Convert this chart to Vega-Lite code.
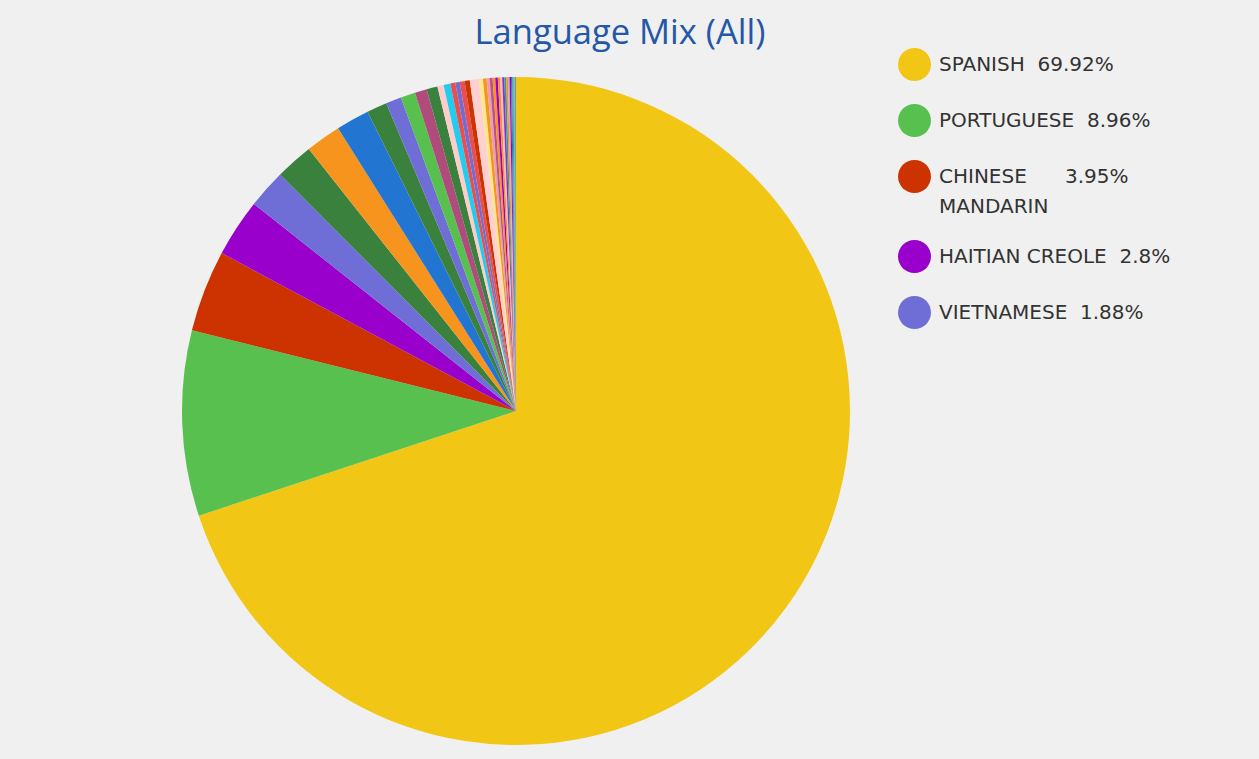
{
  "$schema": "https://vega.github.io/schema/vega-lite/v6.json",
  "autosize": {"type": "none"},
  "width": 1016,
  "height": 696,
  "padding": {"left": 8, "top": 63, "right": 235, "bottom": 0},
  "background": "#f0f0f0",
  "config": {
    "view": {"stroke": null},
    "style": {"guide-label": {"lineHeight": 30}}
  },
  "title": {
    "text": "Language Mix (All)",
    "font": "Open Sans",
    "fontSize": 34.5,
    "fontWeight": "normal",
    "color": "#2457A7",
    "anchor": "middle",
    "frame": "group",
    "dx": 104,
    "dy": 46,
    "baseline": "alphabetic",
    "offset": 16
  },
  "data": {
    "values": [
      {"lang": "SPANISH", "pct": 69.92, "rank": 1},
      {"lang": "PORTUGUESE", "pct": 8.96, "rank": 2},
      {"lang": "CHINESE MANDARIN", "pct": 3.95, "rank": 3},
      {"lang": "HAITIAN CREOLE", "pct": 2.8, "rank": 4},
      {"lang": "VIETNAMESE", "pct": 1.88, "rank": 5},
      {"lang": "OTHER 6", "pct": 1.83, "rank": 6},
      {"lang": "OTHER 7", "pct": 1.71, "rank": 7},
      {"lang": "OTHER 8", "pct": 1.61, "rank": 8},
      {"lang": "OTHER 9", "pct": 0.98, "rank": 9},
      {"lang": "OTHER 10", "pct": 0.75, "rank": 10},
      {"lang": "OTHER 11", "pct": 0.71, "rank": 11},
      {"lang": "OTHER 12", "pct": 0.58, "rank": 12},
      {"lang": "OTHER 13", "pct": 0.53, "rank": 13},
      {"lang": "OTHER 14", "pct": 0.3, "rank": 14},
      {"lang": "OTHER 15", "pct": 0.33, "rank": 15},
      {"lang": "OTHER 16", "pct": 0.24, "rank": 16},
      {"lang": "OTHER 17", "pct": 0.21, "rank": 17},
      {"lang": "OTHER 18", "pct": 0.24, "rank": 18},
      {"lang": "OTHER 19", "pct": 0.25, "rank": 19},
      {"lang": "OTHER 20", "pct": 0.44, "rank": 20},
      {"lang": "OTHER 21", "pct": 0.19, "rank": 21},
      {"lang": "OTHER 22", "pct": 0.17, "rank": 22},
      {"lang": "OTHER 23", "pct": 0.15, "rank": 23},
      {"lang": "OTHER 24", "pct": 0.14, "rank": 24},
      {"lang": "OTHER 25", "pct": 0.13, "rank": 25},
      {"lang": "OTHER 26", "pct": 0.12, "rank": 26},
      {"lang": "OTHER 27", "pct": 0.11, "rank": 27},
      {"lang": "OTHER 28", "pct": 0.1, "rank": 28},
      {"lang": "OTHER 29", "pct": 0.1, "rank": 29},
      {"lang": "OTHER 30", "pct": 0.09, "rank": 30},
      {"lang": "OTHER 31", "pct": 0.08, "rank": 31},
      {"lang": "OTHER 32", "pct": 0.08, "rank": 32},
      {"lang": "OTHER 33", "pct": 0.07, "rank": 33},
      {"lang": "OTHER 34", "pct": 0.06, "rank": 34},
      {"lang": "OTHER 35", "pct": 0.06, "rank": 35},
      {"lang": "OTHER 36", "pct": 0.05, "rank": 36},
      {"lang": "OTHER 37", "pct": 0.04, "rank": 37},
      {"lang": "OTHER 38", "pct": 0.03, "rank": 38}
    ]
  },
  "mark": {"type": "arc", "radius": 334, "stroke": null},
  "encoding": {
    "theta": {"field": "pct", "type": "quantitative", "stack": true},
    "order": {"field": "rank", "type": "quantitative"},
    "color": {
      "field": "lang",
      "type": "nominal",
      "scale": {
        "domain": ["SPANISH", "PORTUGUESE", "CHINESE MANDARIN", "HAITIAN CREOLE", "VIETNAMESE", "OTHER 6", "OTHER 7", "OTHER 8", "OTHER 9", "OTHER 10", "OTHER 11", "OTHER 12", "OTHER 13", "OTHER 14", "OTHER 15", "OTHER 16", "OTHER 17", "OTHER 18", "OTHER 19", "OTHER 20", "OTHER 21", "OTHER 22", "OTHER 23", "OTHER 24", "OTHER 25", "OTHER 26", "OTHER 27", "OTHER 28", "OTHER 29", "OTHER 30", "OTHER 31", "OTHER 32", "OTHER 33", "OTHER 34", "OTHER 35", "OTHER 36", "OTHER 37", "OTHER 38"],
        "range": ["#F2C614", "#58C04F", "#CC3300", "#9900CC", "#6E6ED6", "#3A813E", "#F7941E", "#2276D2", "#3A813E", "#6E6ED6", "#58C04F", "#B04C7C", "#3A813E", "#FFCCCC", "#22CCEE", "#E85050", "#6E6ED6", "#E85050", "#CC3300", "#FFD0D0", "#FFE68A", "#F7941E", "#E8A0B0", "#C0508A", "#F7941E", "#9900CC", "#F7941E", "#FFB6C1", "#8833CC", "#2AA198", "#F7941E", "#E8A0B0", "#9900CC", "#2276D2", "#2AA198", "#58C04F", "#999999", "#2276D2"]
      },
      "legend": {
        "title": null,
        "orient": "none",
        "legendX": 890,
        "legendY": -15,
        "padding": 0,
        "values": ["SPANISH", "PORTUGUESE", "CHINESE MANDARIN", "HAITIAN CREOLE", "VIETNAMESE"],
        "symbolType": "circle",
        "symbolSize": 1089,
        "symbolStrokeWidth": 0,
        "symbolOpacity": 1,
        "labelFont": "DejaVu Sans",
        "labelFontSize": 20,
        "labelColor": "#333333",
        "labelOffset": 8,
        "labelLimit": 400,
        "rowPadding": 23,
        "labelExpr": "datum.value == 'SPANISH' ? 'SPANISH\u00a0\u00a069.92%' : datum.value == 'PORTUGUESE' ? 'PORTUGUESE\u00a0\u00a08.96%' : datum.value == 'CHINESE MANDARIN' ? ['CHINESE\u00a0\u00a0\u00a0\u00a0\u00a0\u00a03.95%', 'MANDARIN'] : datum.value == 'HAITIAN CREOLE' ? 'HAITIAN CREOLE\u00a0\u00a02.8%' : 'VIETNAMESE\u00a0\u00a01.88%'",
        "encode": {
          "labels": {
            "update": {
              "lineHeight": {"value": 30},
              "dy": {"signal": "datum.value == 'CHINESE MANDARIN' ? 15 : 0"}
            }
          }
        }
      }
    }
  }
}
